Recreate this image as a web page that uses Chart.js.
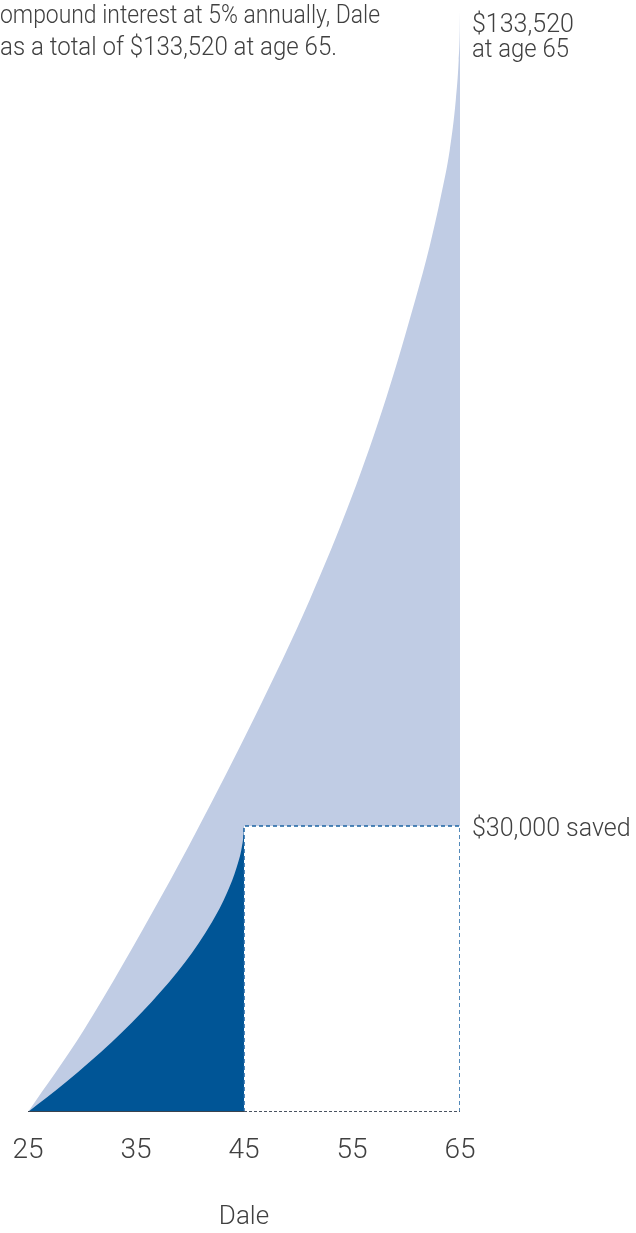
<!DOCTYPE html>
<html>
<head>
<meta charset="utf-8">
<script src="https://cdn.jsdelivr.net/npm/chart.js@4.4.1/dist/chart.umd.min.js"></script>
<style>
  html, body { margin: 0; padding: 0; background: #fff; }
</style>
</head>
<body>
<canvas id="chart" width="636" height="1233"></canvas>
<script>
// ages and balances
const growthAges = [25, 30.17, 37.31, 40.66, 45.99, 51.08, 54.97, 58.21, 60.9, 62.19, 63.24, 64.05, 64.61, 64.88, 64.98, 65];
const growthValues = [0, 9940, 26050, 34170, 47860, 62030, 74500, 86700, 98600, 104900, 111000, 116560, 122610, 127460, 131090, 133520];

const savedAges = [25, 28.53, 32.77, 36.44, 39.56, 42.04, 43.46, 44.33, 44.8, 44.96, 45];
const savedValues = [0, 3640, 8480, 13330, 18170, 23020, 26660, 29680, 32110, 33680, 34650];

const boxAges = [45, 45, 65, 65];
const boxValues = [0, 34650, 34650, 0];

const tickAges = [25, 35, 45, 55, 65];
const maxValue = 133520;

const introLines = ['ompound interest at 5% annually, Dale', 'as a total of $133,520 at age 65.'];
const topLabel = ['$133,520', 'at age 65'];
const savedLabel = '$30,000 saved';

const family = '"Roboto", "Liberation Sans", sans-serif';
const textColor = '#404040';

function pts(xs, ys) {
    return xs.map((x, i) => ({ x: x, y: ys[i] }));
}

// free text next to the plot
const textPlugin = {
    id: 'notes',
    afterDraw(chart) {
        const ctx = chart.ctx;
        const xs = chart.scales.x;
        const ys = chart.scales.y;
        ctx.save();
        ctx.fillStyle = textColor;
        ctx.textAlign = 'left';
        ctx.textBaseline = 'alphabetic';
        ctx.font = '300 26px ' + family;
        ctx.fillText(introLines[0], 0, 23, 380);
        ctx.fillText(introLines[1], 0, 55, 337);
        ctx.font = '300 25px ' + family;
        const rx = xs.right + 12;
        ctx.fillText(topLabel[0], rx, ys.top + 22, 107);
        ctx.fillText(topLabel[1], rx, ys.top + 47, 97);
        ctx.fillText(savedLabel, rx, ys.getPixelForValue(boxValues[1]) + 10, 162);
        ctx.restore();
    }
};

new Chart(document.getElementById('chart'), {
    type: 'line',
    data: {
        datasets: [
            {
                // total with interest
                data: pts(growthAges, growthValues),
                fill: 'origin',
                backgroundColor: '#c0cce4',
                borderWidth: 0,
                pointRadius: 0,
                cubicInterpolationMode: 'monotone',
                order: 5
            },
            {
                // blank box under the $30,000 level
                data: pts([45, 65], [boxValues[1], boxValues[1]]),
                fill: 'origin',
                backgroundColor: '#ffffff',
                borderWidth: 0,
                pointRadius: 0,
                order: 4
            },
            {
                // money saved from 25 to 45
                data: pts(savedAges, savedValues),
                fill: 'origin',
                backgroundColor: '#005596',
                borderWidth: 0,
                pointRadius: 0,
                cubicInterpolationMode: 'monotone',
                order: 3
            },
            {
                data: pts(boxAges, boxValues),
                fill: false,
                borderColor: '#1b63a3',
                borderWidth: 1.5,
                borderDash: [4, 3],
                pointRadius: 0,
                tension: 0,
                order: 2
            },
            {
                data: pts([25, 45], [0, 0]),
                fill: false,
                borderColor: '#3a434e',
                borderWidth: 2,
                pointRadius: 0,
                order: 1
            },
            {
                data: pts([45, 65], [0, 0]),
                fill: false,
                borderColor: '#4a5361',
                borderWidth: 2,
                borderDash: [3, 2],
                pointRadius: 0,
                order: 1
            }
        ]
    },
    options: {
        responsive: false,
        animation: false,
        layout: { padding: { left: 28, right: 176, top: 10, bottom: 0 } },
        plugins: {
            legend: { display: false },
            tooltip: { enabled: false }
        },
        scales: {
            x: {
                type: 'linear',
                min: 25,
                max: 65,
                afterBuildTicks(scale) {
                    scale.ticks = tickAges.map(v => ({ value: v }));
                },
                ticks: {
                    font: { family: family, size: 28, weight: '300', lineHeight: 2 },
                    color: textColor,
                    padding: 11,
                    autoSkip: false,
                    maxRotation: 0
                },
                grid: { display: false, drawTicks: false },
                border: { display: false },
                title: {
                    display: true,
                    text: 'Dale',
                    color: textColor,
                    font: { family: family, size: 26, weight: '300' },
                    padding: { top: 0, bottom: 0 }
                },
                afterFit(scale) {
                    scale.height = 121;
                }
            },
            y: {
                display: false,
                min: 0,
                max: maxValue
            }
        }
    },
    plugins: [textPlugin]
});
</script>
</body>
</html>
